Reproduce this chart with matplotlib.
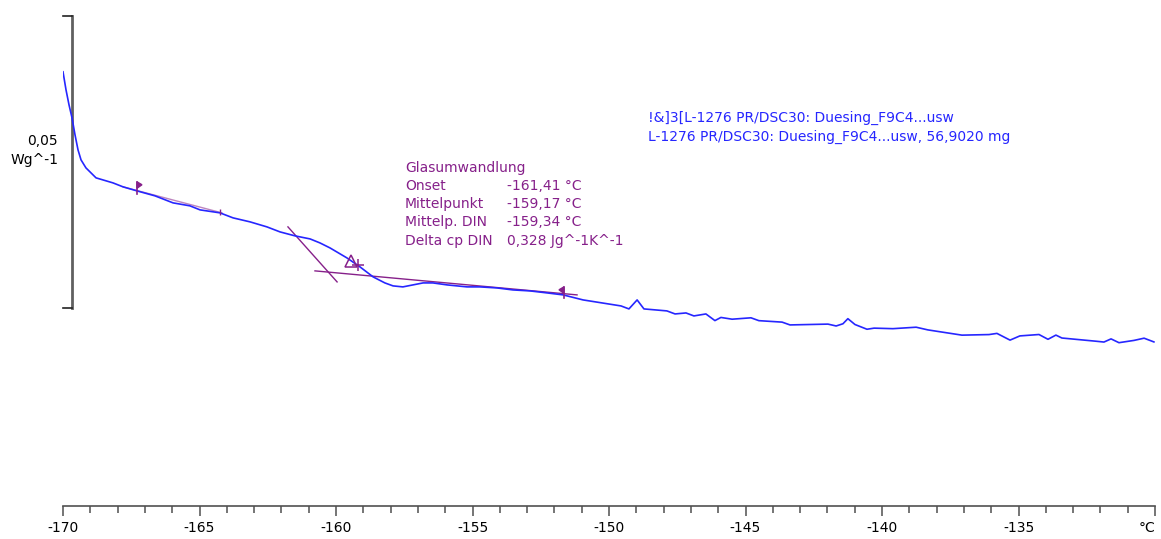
import numpy as np
import matplotlib.pyplot as plt
from matplotlib.ticker import MultipleLocator, FixedLocator, FixedFormatter

# ---------------------------------------------------------------------------
# DSC curve (temperature in degC, heat flow in W/g, arbitrary offset)
# ---------------------------------------------------------------------------
temp = [-170.00, -169.89, -169.78, -169.67, -169.56, -169.45, -169.34, -169.16,
        -168.79, -168.17, -167.80, -167.29, -166.63, -165.97, -165.35, -164.98,
        -164.25, -163.77, -163.15, -162.53, -162.05, -161.50, -160.95, -160.59,
        -160.22, -159.60, -159.12, -158.64, -158.21, -157.91, -157.55, -157.18,
        -156.81, -156.45, -155.93, -155.20, -154.73, -154.10, -153.52, -152.89,
        -152.27, -151.68, -150.95, -149.56, -149.27, -148.97, -148.72, -147.88,
        -147.58, -147.18, -146.89, -146.45, -146.12, -145.90, -145.49, -144.80,
        -144.51, -143.66, -143.37, -141.98, -141.68, -141.43, -141.25, -140.99,
        -140.55, -140.29, -139.60, -138.75, -138.32, -137.07, -136.08, -135.79,
        -135.31, -134.95, -134.25, -133.92, -133.63, -133.41, -132.16, -131.87,
        -131.61, -131.32, -130.77, -130.40, -130.04]
heatflow = [0.04041, 0.03733, 0.03476, 0.03253, 0.02962, 0.02705, 0.02534, 0.02397,
            0.02226, 0.02140, 0.02072, 0.02003, 0.01918, 0.01798, 0.01747, 0.01678,
            0.01627, 0.01541, 0.01473, 0.01387, 0.01301, 0.01233, 0.01181, 0.01113,
            0.01027, 0.00856, 0.00702, 0.00531, 0.00428, 0.00377, 0.00360, 0.00394,
            0.00428, 0.00428, 0.00394, 0.00360, 0.00360, 0.00342, 0.00308, 0.00291,
            0.00257, 0.00223, 0.00137, 0.00034, -0.00017, 0.00137, -0.00017, -0.00051,
            -0.00103, -0.00086, -0.00137, -0.00103, -0.00217, -0.00163, -0.00193, -0.00169,
            -0.00218, -0.00243, -0.00291, -0.00277, -0.00309, -0.00271, -0.00184, -0.00284,
            -0.00365, -0.00346, -0.00355, -0.00330, -0.00376, -0.00466, -0.00456, -0.00436,
            -0.00551, -0.00479, -0.00455, -0.00537, -0.00465, -0.00515, -0.00570, -0.00584,
            -0.00530, -0.00595, -0.00556, -0.00518, -0.00582]

# glass transition evaluation (tangents and markers)
tangent_before = ([-167.80, -164.18], [0.02072, 0.01627])
tangent_step = ([-161.76, -159.96], [0.01387, 0.00445])
tangent_after = ([-160.77, -151.17], [0.00634, 0.00223])
flag_left = (-167.29, 0.01952, 0.02158)
flag_right = (-151.65, 0.00170, 0.00360)
midpoint = (-159.40, 0.00770)

eval_labels = ['Onset', 'Mittelpunkt', 'Mittelp. DIN', 'Delta cp DIN']
eval_values = ['-161,41 °C', '-159,17 °C', '-159,34 °C', '0,328 Jg^-1K^-1']

curve_info = ['!&]3[L-1276 PR/DSC30: Duesing_F9C4...usw',
              'L-1276 PR/DSC30: Duesing_F9C4...usw, 56,9020 mg']

x_ticks = [-170, -165, -160, -155, -150, -145, -140, -135, -130]
x_labels = ['-170', '-165', '-160', '-155', '-150', '-145', '-140', '-135', '°C']

# ---------------------------------------------------------------------------
purple = '#86208a'
blue = '#2626ff'

fig = plt.figure(figsize=(11.61, 5.39), dpi=100)
ax = fig.add_axes([63 / 1161, 1 - 506 / 539, 1092 / 1161, 506 / 539])

ax.plot(temp, heatflow, color=blue, lw=1.2, zorder=3)

# tangents
ax.plot(*tangent_before, color=purple, lw=1.0, alpha=0.55, zorder=2)
ax.plot(*tangent_step, color=purple, lw=1.0, zorder=2)
ax.plot(*tangent_after, color=purple, lw=1.0, zorder=2)

# limit flags
for (fx, y0, y1), d in [(flag_left, 0.13), (flag_right, -0.13)]:
    ax.plot([fx, fx], [y0, y1], color=purple, lw=1.2, zorder=4)
    ax.fill([fx, fx + d * 1.4, fx], [y1, y1 - 0.0005, y1 - 0.0011],
            color=purple, zorder=4)
ax.plot([-164.25], [0.01640], marker='|', ms=4, color=purple, zorder=4)

# midpoint marker
ax.plot(midpoint[0] - 0.05, midpoint[1] + 0.0003, marker='^', ms=8,
        mfc='none', mec=purple, mew=1.1, zorder=4)
ax.plot(midpoint[0] + 0.2, midpoint[1] - 0.0003, marker='+', ms=9,
        color=purple, mew=1.1, zorder=4)

# evaluation text
ax.text(-157.47, 0.02397, 'Glasumwandlung', color=purple, fontsize=10,
        va='center', ha='left')
row_y = [0.02089, 0.01781, 0.01473, 0.01147]
for lab, val, yy in zip(eval_labels, eval_values, row_y):
    ax.text(-157.47, yy, lab, color=purple, fontsize=10, va='center', ha='left')
    ax.text(-153.74, yy, val, color=purple, fontsize=10, va='center', ha='left')

# curve info
for line, yy in zip(curve_info, [0.03253, 0.02928]):
    ax.text(-148.57, yy, line, color=blue, fontsize=10, va='center', ha='left')

# scale bar for the ordinate
bx = -169.67
ax.plot([bx, bx], [0.0, 0.05], color='#606060', lw=2, clip_on=False, zorder=1)
ax.plot([-170.0, bx], [0.05, 0.05], color='#222222', lw=1.2, clip_on=False)
ax.plot([-170.0, bx], [0.0, 0.0], color='#222222', lw=1.2, clip_on=False)
ax.text(-170.18, 0.0270, '0,05\nWg^-1', ha='right', va='center', fontsize=10,
        linespacing=1.45)

ax.set_xlim(-170, -130)
ax.set_ylim(-0.0339, 0.0527)

for s in ['top', 'left', 'right']:
    ax.spines[s].set_visible(False)
ax.spines['bottom'].set_color('#505050')
ax.spines['bottom'].set_linewidth(1.2)
ax.set_yticks([])
ax.xaxis.set_major_locator(FixedLocator(x_ticks))
ax.xaxis.set_major_formatter(FixedFormatter(x_labels))
ax.xaxis.set_minor_locator(MultipleLocator(1))
ax.tick_params(axis='x', which='major', length=7, width=1.1, color='#505050',
               labelsize=10, pad=4)
ax.tick_params(axis='x', which='minor', length=5, width=1.1, color='#505050')
for lab in ax.get_xticklabels():
    if lab.get_text() == '°C':
        lab.set_ha('right')

fig.savefig('out.png', dpi=100)
